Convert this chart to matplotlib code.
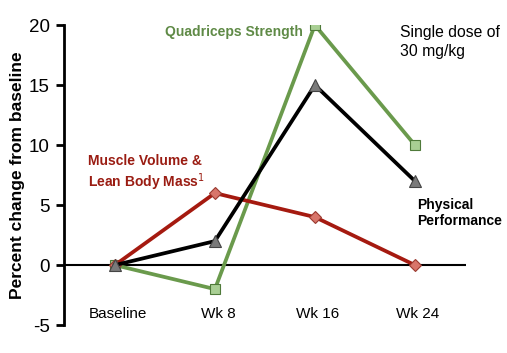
import matplotlib
matplotlib.use("Agg")
import matplotlib.pyplot as plt

plt.rcParams['font.family'] = ['Liberation Sans', 'DejaVu Sans']
plt.rcParams['axes.unicode_minus'] = False

categories = ["Baseline", "Wk 8", "Wk 16", "Wk 24"]
quadriceps = [0, -2, 20, 10]
physical = [0, 2, 15, 7]
muscle = [0, 6, 4, 0]
yticks = [-5, 0, 5, 10, 15, 20]

fig = plt.figure(figsize=(5.07, 3.53), dpi=100)
ax = fig.add_axes([0.126, 0.079, 0.793, 0.850])
x = list(range(len(categories)))

ax.axhline(0, color='black', lw=1.5, zorder=1)

ax.plot(x, quadriceps, color='#6a9a4c', lw=2.7, marker='s', ms=7,
        mfc='#a9cf94', mec='#4f7a3a', mew=0.8, zorder=3)
ax.plot(x, muscle, color='#a51a10', lw=2.7, marker='D', ms=6,
        mfc='#d8756a', mec='#9a3a30', mew=0.8, zorder=3)
ax.plot(x, physical, color='black', lw=2.7, marker='^', ms=9,
        mfc='#7a7a7a', mec='#444444', mew=0.8, zorder=4)

ax.set_xlim(-0.51, 3.51)
ax.set_ylim(-5, 20)
ax.set_yticks(yticks)
ax.set_xticks([])
for s in ['top', 'right', 'bottom']:
    ax.spines[s].set_visible(False)
ax.spines['left'].set_linewidth(2)
ax.tick_params(axis='y', direction='out', length=6, width=2, labelsize=13.5, pad=4)
ax.set_ylabel("Percent change from baseline", fontsize=12.5, fontweight='bold', labelpad=3)

for xi, lab in zip(x, categories):
    ax.text(xi + 0.03, -4.1, lab, ha='center', va='center', fontsize=11)

ax.text(0.5, 19.4, "Quadriceps Strength", color='#5f8a46', fontsize=10,
        fontweight='bold', ha='left', va='center')
ax.text(2.85, 18.6, "Single dose of\n30 mg/kg", color='black', fontsize=11.3,
        ha='left', va='center', linespacing=1.3)
ax.text(-0.27, 7.65, "Muscle Volume &\nLean Body Mass$^1$", color='#9a1c12',
        fontsize=10, fontweight='bold', ha='left', va='center', linespacing=1.2)
ax.text(3.02, 4.35, "Physical\nPerformance", color='black', fontsize=10,
        fontweight='bold', ha='left', va='center', linespacing=1.2)

fig.savefig("out.png", dpi=100)
